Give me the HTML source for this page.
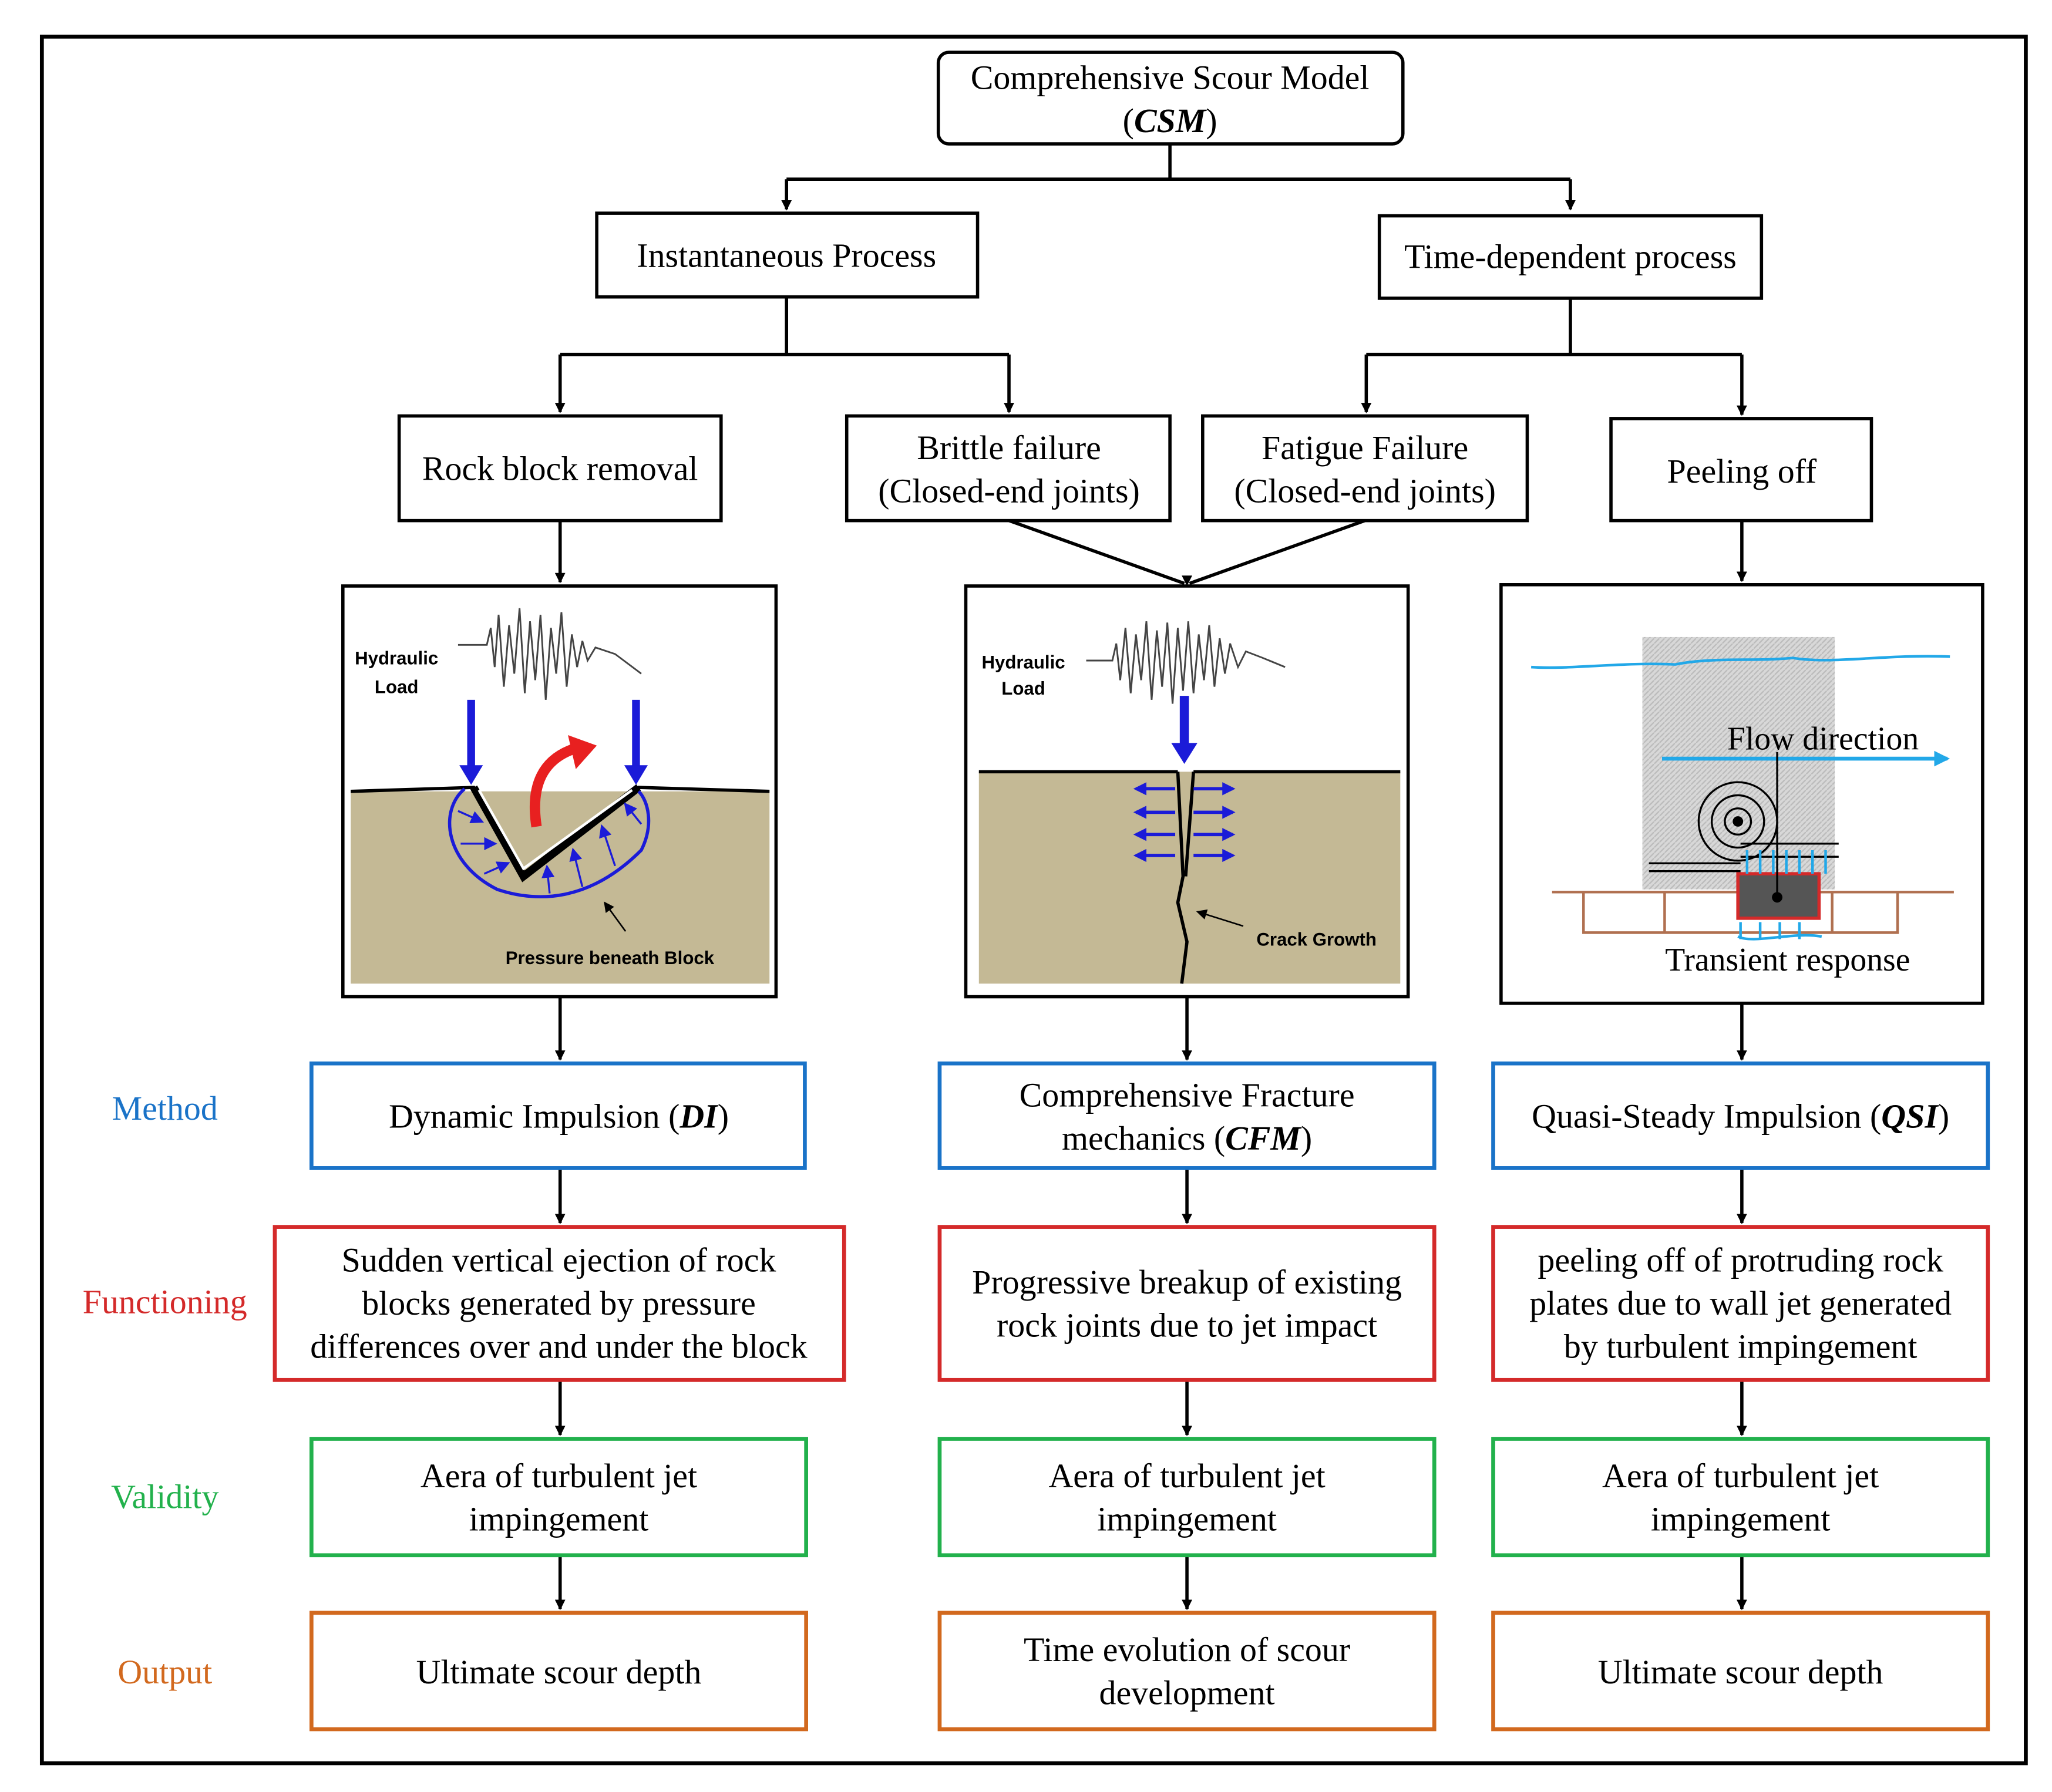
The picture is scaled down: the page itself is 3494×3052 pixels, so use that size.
<!DOCTYPE html>
<html><head><meta charset="utf-8"><style>
html,body{margin:0;padding:0;background:#fff;}
svg{display:block;}
text{font-family:"Liberation Serif",serif;}
.s{font-family:"Liberation Sans",sans-serif;font-weight:bold;}
</style></head><body>
<svg width="3494" height="3052" viewBox="0 0 1568 1370" preserveAspectRatio="none" xmlns="http://www.w3.org/2000/svg">
<defs>
<marker id="a" markerWidth="8" markerHeight="8" refX="7" refY="4" orient="auto" markerUnits="userSpaceOnUse"><path d="M0,0 L8,4 L0,8 z" fill="#000"/></marker>
<marker id="b" markerWidth="10" markerHeight="10" refX="8" refY="5" orient="auto" markerUnits="userSpaceOnUse"><path d="M0,0 L10,5 L0,10 z" fill="#1b1bd8"/></marker>
<marker id="c" markerWidth="12" markerHeight="12" refX="10" refY="6" orient="auto" markerUnits="userSpaceOnUse"><path d="M0,0 L12,6 L0,12 z" fill="#22a8e8"/></marker>
<pattern id="h" width="4" height="4" patternUnits="userSpaceOnUse"><rect width="4" height="4" fill="#d8d8d8"/><path d="M0,4 L4,0" stroke="#bbb" stroke-width="1"/></pattern>
</defs>
<rect x="0" y="0" width="1568" height="1370" fill="#fff"/>
<rect x="32" y="28" width="1516" height="1320" fill="none" stroke="#000" stroke-width="3"/>

<g fill="none" stroke="#000" stroke-width="2.5">
<rect x="717" y="40" width="355" height="70" rx="8"/>
<rect x="456" y="163" width="291" height="64"/>
<rect x="1054" y="165" width="292" height="63"/>
<rect x="305" y="318" width="246" height="80"/>
<rect x="647" y="318" width="247" height="80"/>
<rect x="919" y="318" width="248" height="80"/>
<rect x="1231" y="320" width="199" height="78"/>
<rect x="262" y="448" width="331" height="314"/>
<rect x="738" y="448" width="338" height="314"/>
<rect x="1147" y="447" width="368" height="320"/>
</g>
<g fill="none" stroke="#000" stroke-width="2.5">
<path d="M894,110 V137 M601,137 H1200"/>
<path d="M601,137 V160" marker-end="url(#a)"/><path d="M1200,137 V160" marker-end="url(#a)"/>
<path d="M601,227 V271 H428 M601,271 H771 M1200,228 V271 H1044 M1200,271 H1331"/>
<path d="M428,271 V315" marker-end="url(#a)"/><path d="M771,271 V315" marker-end="url(#a)"/>
<path d="M1044,271 V315" marker-end="url(#a)"/><path d="M1331,271 V317" marker-end="url(#a)"/>
<path d="M428,398 V445" marker-end="url(#a)"/>
<path d="M771,398 L905,446 M1043,398 L909,446"/>
<path d="M1331,398 V444" marker-end="url(#a)"/>
<path d="M428,762 V810" marker-end="url(#a)"/><path d="M907,762 V810" marker-end="url(#a)"/><path d="M1331,767 V810" marker-end="url(#a)"/>
<path d="M428,893 V935" marker-end="url(#a)"/><path d="M907,893 V935" marker-end="url(#a)"/><path d="M1331,893 V935" marker-end="url(#a)"/>
<path d="M428,1055 V1097" marker-end="url(#a)"/><path d="M907,1055 V1097" marker-end="url(#a)"/><path d="M1331,1055 V1097" marker-end="url(#a)"/>
<path d="M428,1189 V1230" marker-end="url(#a)"/><path d="M907,1189 V1230" marker-end="url(#a)"/><path d="M1331,1189 V1230" marker-end="url(#a)"/>
</g>
<path d="M903,440 L907,448 L911,440 z" fill="#000"/>

<g fill="none" stroke-width="3">
<g stroke="#1a73c8"><rect x="238" y="813" width="377" height="80"/><rect x="718" y="813" width="378" height="80"/><rect x="1141" y="813" width="378" height="80"/></g>
<g stroke="#d42a2a"><rect x="210" y="938" width="435" height="117"/><rect x="718" y="938" width="378" height="117"/><rect x="1141" y="938" width="378" height="117"/></g>
<g stroke="#22b14c"><rect x="238" y="1100" width="378" height="89"/><rect x="718" y="1100" width="378" height="89"/><rect x="1141" y="1100" width="378" height="89"/></g>
<g stroke="#d2691e"><rect x="238" y="1233" width="378" height="89"/><rect x="718" y="1233" width="378" height="89"/><rect x="1141" y="1233" width="378" height="89"/></g>
</g>

<g font-size="26" text-anchor="middle" fill="#000">
<text x="894" y="68">Comprehensive Scour Model</text>
<text x="894" y="101">(<tspan font-weight="bold" font-style="italic">CSM</tspan>)</text>
<text x="601" y="204">Instantaneous Process</text>
<text x="1200" y="205">Time-dependent process</text>
<text x="428" y="367">Rock block removal</text>
<text x="771" y="351">Brittle failure</text>
<text x="771" y="384">(Closed-end joints)</text>
<text x="1043" y="351">Fatigue Failure</text>
<text x="1043" y="384">(Closed-end joints)</text>
<text x="1331" y="369">Peeling off</text>
<text x="427" y="862">Dynamic Impulsion (<tspan font-weight="bold" font-style="italic">DI</tspan>)</text>
<text x="907" y="846">Comprehensive Fracture</text>
<text x="907" y="879">mechanics (<tspan font-weight="bold" font-style="italic">CFM</tspan>)</text>
<text x="1330" y="862">Quasi-Steady Impulsion (<tspan font-weight="bold" font-style="italic">QSI</tspan>)</text>
<text x="427" y="972">Sudden vertical ejection of rock</text>
<text x="427" y="1005">blocks generated by pressure</text>
<text x="427" y="1038">differences over and under the block</text>
<text x="907" y="989">Progressive breakup of existing</text>
<text x="907" y="1022">rock joints due to jet impact</text>
<text x="1330" y="972">peeling off of protruding rock</text>
<text x="1330" y="1005">plates due to wall jet generated</text>
<text x="1330" y="1038">by turbulent impingement</text>
<text x="427" y="1137">Aera of turbulent jet</text><text x="427" y="1170">impingement</text>
<text x="907" y="1137">Aera of turbulent jet</text><text x="907" y="1170">impingement</text>
<text x="1330" y="1137">Aera of turbulent jet</text><text x="1330" y="1170">impingement</text>
<text x="427" y="1287">Ultimate scour depth</text>
<text x="907" y="1270">Time evolution of scour</text><text x="907" y="1303">development</text>
<text x="1330" y="1287">Ultimate scour depth</text>
<text x="126" y="856" fill="#1a73c8">Method</text>
<text x="126" y="1004" fill="#d42a2a">Functioning</text>
<text x="126" y="1153" fill="#22b14c">Validity</text>
<text x="126" y="1287" fill="#d2691e">Output</text>
</g>

<!-- image 1 -->
<rect x="268" y="605" width="320" height="147" fill="#c4b995"/>
<path d="M268,605 L362,602 L400,670 L488,602 L588,605" fill="none" stroke="#000" stroke-width="2.5"/>
<path d="M362,602 L400,670 L488,602" fill="none" stroke="#000" stroke-width="6"/>
<path d="M366,604 L400,664 L483,604" fill="none" stroke="#fff" stroke-width="2"/>
<path d="M355,603 C335,620 340,660 380,680 C410,690 450,690 490,650 C500,630 495,612 488,605" fill="none" stroke="#1b1bd8" stroke-width="2.5"/>
<g stroke="#1b1bd8" stroke-width="1.5">
<path d="M350,620 L368,628" marker-end="url(#b)"/><path d="M352,645 L378,645" marker-end="url(#b)"/><path d="M370,668 L388,660" marker-end="url(#b)"/>
<path d="M420,683 L418,663" marker-end="url(#b)"/><path d="M445,678 L438,650" marker-end="url(#b)"/><path d="M470,662 L460,632" marker-end="url(#b)"/><path d="M490,630 L478,615" marker-end="url(#b)"/>
</g>
<path d="M360,535 V588" stroke="#1b1bd8" stroke-width="6"/><path d="M351,585 L360,600 L369,585z" fill="#1b1bd8"/>
<path d="M486,535 V588" stroke="#1b1bd8" stroke-width="6"/><path d="M477,585 L486,600 L495,585z" fill="#1b1bd8"/>
<path d="M410,632 C405,600 415,580 440,572" fill="none" stroke="#e82020" stroke-width="8"/><path d="M434,562 L456,570 L440,588z" fill="#e82020"/>
<path d="M350,493 L372,493 L375,480 L378,510 L381,470 L385,525 L389,478 L393,515 L397,465 L401,530 L405,475 L409,520 L413,470 L417,535 L421,480 L425,515 L429,468 L433,525 L437,485 L441,510 L445,490 L449,505 L455,495 L470,500 L490,515" fill="none" stroke="#444" stroke-width="1.3"/>
<text class="s" x="303" y="508" font-size="14" text-anchor="middle">Hydraulic</text>
<text class="s" x="303" y="530" font-size="14" text-anchor="middle">Load</text>
<text class="s" x="466" y="737" font-size="14" text-anchor="middle">Pressure beneath Block</text>
<path d="M478,712 L462,690" stroke="#000" stroke-width="1.2" marker-end="url(#a)"/>

<!-- image 2 -->
<rect x="748" y="590" width="322" height="162" fill="#c4b995"/>
<path d="M748,590 L900,590 M912,590 L1070,590" stroke="#000" stroke-width="2.5"/>
<path d="M900,590 L904,670 L900,690 L907,720 L903,752 M912,590 L906,670" fill="none" stroke="#000" stroke-width="2.5"/>
<path d="M905,532 V572" stroke="#1b1bd8" stroke-width="7"/><path d="M895,568 L905,584 L915,568z" fill="#1b1bd8"/>
<g stroke="#1b1bd8" stroke-width="2.5">
<path d="M898,603 L868,603" marker-end="url(#b)"/><path d="M898,621 L868,621" marker-end="url(#b)"/><path d="M898,638 L868,638" marker-end="url(#b)"/><path d="M898,654 L868,654" marker-end="url(#b)"/>
<path d="M912,603 L942,603" marker-end="url(#b)"/><path d="M912,621 L942,621" marker-end="url(#b)"/><path d="M912,638 L942,638" marker-end="url(#b)"/><path d="M912,654 L942,654" marker-end="url(#b)"/>
</g>
<path d="M830,505 L850,505 L853,492 L856,520 L860,480 L864,530 L868,485 L872,520 L876,475 L880,535 L884,482 L888,525 L892,476 L896,538 L900,480 L904,528 L908,475 L912,530 L916,485 L920,520 L924,478 L928,525 L932,488 L936,515 L940,492 L946,510 L952,498 L965,503 L982,510" fill="none" stroke="#444" stroke-width="1.3"/>
<text class="s" x="782" y="511" font-size="14" text-anchor="middle">Hydraulic</text>
<text class="s" x="782" y="531" font-size="14" text-anchor="middle">Load</text>
<text class="s" x="1006" y="723" font-size="14" text-anchor="middle">Crack Growth</text>
<path d="M950,708 L915,697" stroke="#000" stroke-width="1.2" marker-end="url(#a)"/>

<!-- image 3 -->
<rect x="1255" y="487" width="147" height="193" fill="url(#h)"/>
<path d="M1170,510 C1200,512 1240,506 1280,508 C1310,502 1340,506 1370,503 C1400,508 1440,500 1490,502" fill="none" stroke="#22a8e8" stroke-width="2"/>
<path d="M1270,580 L1488,580" stroke="#22a8e8" stroke-width="3" marker-end="url(#c)"/>
<path d="M1186,682 H1493 M1210,682 V713 H1450 V682 M1272,682 V713 M1400,682 V713" fill="none" stroke="#b07050" stroke-width="2"/>
<rect x="1328" y="668" width="62" height="34" fill="#555" stroke="#d42a2a" stroke-width="2.5"/>
<g fill="none" stroke="#000" stroke-width="1.5">
<circle cx="1328" cy="628" r="10"/><circle cx="1328" cy="628" r="20"/><circle cx="1328" cy="628" r="30"/>
<path d="M1260,660 H1330 M1260,666 H1330 M1330,645 H1405 M1330,655 H1405 M1358,575 V690"/>
</g>
<circle cx="1328" cy="628" r="4" fill="#000"/><circle cx="1358" cy="686" r="4" fill="#000"/>
<g stroke="#22a8e8" stroke-width="2"><path d="M1335,650 V668 M1345,650 V668 M1355,650 V668 M1365,650 V668 M1375,650 V668 M1385,650 V668 M1395,650 V668 M1330,705 V718 M1345,705 V718 M1360,705 V718 M1375,705 V718"/></g>
<path d="M1328,716 C1340,722 1370,712 1392,716" fill="none" stroke="#22a8e8" stroke-width="2"/>
<text x="1393" y="573" font-size="25" text-anchor="middle">Flow direction</text>
<text x="1366" y="742" font-size="25" text-anchor="middle">Transient response</text>
</svg>
</body></html>
